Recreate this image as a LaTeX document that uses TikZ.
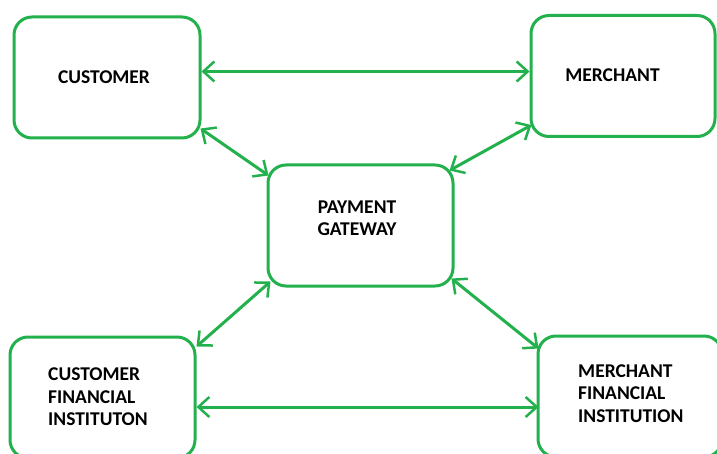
\documentclass[tikz,border=0pt]{standalone}
\usepackage{fontspec}
\setmainfont{Carlito}
\usetikzlibrary{arrows.meta,calc}
\definecolor{pgreen}{RGB}{34,177,76}
\tikzset{
  box/.style={draw=pgreen,line width=3pt,rounded corners=18pt,minimum width=#1,inner sep=0pt,minimum height=121pt},
  lbl/.style={font=\fontsize{19.5}{22.5}\selectfont\bfseries,align=left,inner sep=0pt,text=black},
  link/.style={draw=pgreen,line width=3pt,{Straight Barb[length=11pt,width=20pt,line width=2.5pt]}-{Straight Barb[length=11pt,width=20pt,line width=2.5pt]}}
}
\begin{document}
\begin{tikzpicture}[x=1pt,y=-1pt]
\useasboundingbox (0,0) rectangle (717,454);
\node[box=186pt] (cust) at (107,77.5) {};
\node[box=184pt] (merch) at (623,76) {};
\node[box=185pt] (pg) at (360.5,225.5) {};
\node[box=185pt] (cfi) at (102.5,397.5) {};
\node[box=184pt] (mfi) at (630,396.5) {};
\node[lbl] (tcust) at (104,77) {CUSTOMER};
\node[lbl] (tmerch) at (612.5,75) {MERCHANT};
\node[lbl,align=center] (tpg) at (357,218) {PAYMENT\\GATEWAY};
\node[lbl,anchor=west] (tcfi) at (48,397) {CUSTOMER\\FINANCIAL\\INSTITUTON};
\node[lbl,anchor=west] (tmfi) at (578,393.5) {MERCHANT\\FINANCIAL\\INSTITUTION};
\draw[link] ($(cust.east)+(0,-6)$) -- ($(merch.west)+(0,-4.5)$);
\draw[link] ($(cust.south east)+(-1,-11)$) -- ($(pg.north west)+(2,12)$);
\draw[link] ($(merch.south west)+(2,-13)$) -- ($(pg.north east)+(-5,7)$);
\draw[link] ($(pg.south west)+(4,-6)$) -- ($(cfi.north east)+(0,11)$);
\draw[link] ($(pg.south east)+(-3,-9)$) -- ($(mfi.north west)+(2,14)$);
\draw[link] ($(cfi.east)+(0,9.5)$) -- ($(mfi.west)+(2,10.5)$);
\end{tikzpicture}
\end{document}
